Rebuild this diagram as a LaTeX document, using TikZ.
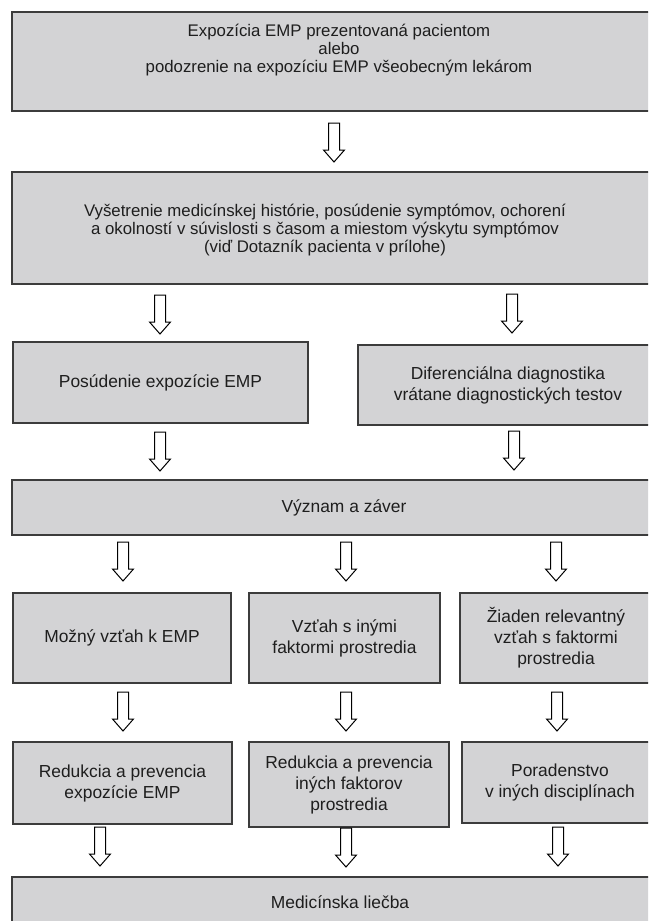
\documentclass[tikz,border=0pt]{standalone}
\usepackage{fontspec}
\setmainfont{Liberation Sans}
\definecolor{boxfill}{RGB}{211,211,213}
\definecolor{boxline}{RGB}{60,60,60}
\definecolor{ink}{RGB}{30,30,30}
\begin{document}
\begin{tikzpicture}[x=1pt,y=-1pt,
  box/.style={draw=boxline,fill=boxfill,line width=1.4pt,inner sep=0pt,align=center,text=ink,
    font=\fontsize{17.4}{21}\selectfont},
  wordsonly/.style={inner sep=0pt,align=center,text=ink,font=\fontsize{16.8}{18}\selectfont},
  fatline/.style={draw=black,fill=white,line width=1pt,line join=miter},
  pics/fatdown/.style={code={
    \draw[fatline] (-5.5,0) -- (5.5,0) -- (5.5,27) -- (10.5,27) -- (0,39) -- (-10.5,27) -- (-5.5,27) -- cycle;}}]
\useasboundingbox (0,0) rectangle (648,921);
\clip (0,0) rectangle (648,921);
% boxes
\node[box,minimum width=654,minimum height=99] (expo) at (339,61.5) {};
\node[wordsonly] (expotext) at (339,50.5)
  {Expozícia EMP prezentovaná pacientom\\alebo\\podozrenie na expozíciu EMP všeobecným lekárom};
\node[box,minimum width=654,minimum height=112] (hist) at (339,228) {};
\node[wordsonly] (histtext) at (325,230)
  {Vyšetrenie medicínskej histórie, posúdenie symptómov, ochorení\\a okolností v súvislosti s časom a miestom výskytu symptómov\\(viď Dotazník pacienta v prílohe)};
\node[box,minimum width=295,minimum height=81] (posud) at (160.5,382.5) {Posúdenie expozície EMP};
\node[box,minimum width=300,minimum height=80] (difer) at (508,385) {Diferenciálna diagnostika\\vrátane diagnostických testov};
\node[box,minimum width=664,minimum height=55] (vyzn) at (344,507.5) {Význam a záver};
\node[box,minimum width=218,minimum height=90] (mozny) at (122,638) {Možný vzťah k EMP};
\node[box,minimum width=191,minimum height=90] (inych) at (344.5,638) {Vzťah s inými\\faktormi prostredia};
\node[box,minimum width=192,minimum height=90] (ziaden) at (556,638) {Žiaden relevantný\\vzťah s faktormi\\prostredia};
\node[box,minimum width=219,minimum height=82] (redemp) at (122.5,783) {Redukcia a prevencia\\expozície EMP};
\node[box,minimum width=200,minimum height=85] (redin) at (349,784.5) {Redukcia a prevencia\\iných faktorov\\prostredia};
\node[box,minimum width=196,minimum height=81] (porad) at (560,782.5) {Poradenstvo\\v iných disciplínach};
\node[box,minimum width=656,minimum height=50] (liecba) at (340,902) {Medicínska liečba};
% arrows
\pic (a1) at (334,123) {fatdown};
\pic (a2l) at (160,295) {fatdown};
\pic (a2r) at (512,294) {fatdown};
\pic (a3l) at (160,432) {fatdown};
\pic (a3r) at (514,431) {fatdown};
\pic (a4l) at (123,542) {fatdown};
\pic (a4m) at (346,542) {fatdown};
\pic (a4r) at (556,542) {fatdown};
\pic (a5l) at (123,692) {fatdown};
\pic (a5m) at (346,692) {fatdown};
\pic (a5r) at (557,692) {fatdown};
\pic (a6l) at (100,827) {fatdown};
\pic (a6m) at (346,828) {fatdown};
\pic (a6r) at (558,827) {fatdown};
\end{tikzpicture}
\end{document}
